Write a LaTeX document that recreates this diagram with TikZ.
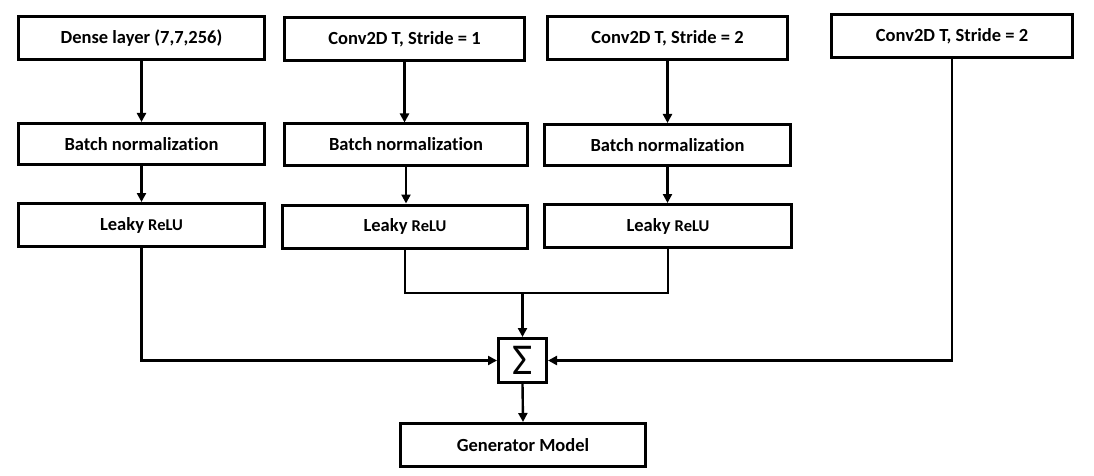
\documentclass[tikz,border=0pt]{standalone}
\usepackage{fontspec}
\setmainfont{Carlito}[Ligatures=NoCommon]
\usepackage{tikz}
\usetikzlibrary{positioning,arrows.meta}
\tikzstyle{layer}=[draw,line width=3pt,font=\bfseries\fontsize{18.5}{20}\selectfont,minimum height=43pt,inner sep=2pt]
\tikzstyle{arr}=[line width=2.4pt,-{Triangle[length=9pt,width=9pt]}]
\tikzstyle{wire}=[line width=2.4pt]
\def\relu{Leaky {\fontsize{16.5}{18}\selectfont ReLU}}

\begin{document}
\begin{tikzpicture}[x=1pt,y=-1pt]
  \useasboundingbox (0,0) rectangle (1094,476);
  % top row
  \node[layer,minimum width=246pt] (dense) at (141.5,38) {Dense layer (7,7,256)};
  \node[layer,minimum width=240pt] (convA) at (404.5,39) {Conv2D T, Stride = 1};
  \node[layer,minimum width=240pt] (convB) at (667.5,38) {Conv2D T, Stride = 2};
  \node[layer,minimum width=241pt] (convC) at (952,36) {Conv2D T, Stride = 2};
  % normalization
  \node[layer,minimum width=246pt,minimum height=41pt] (batchA) at (141.5,144) {Batch normalization};
  \node[layer,minimum width=243pt,minimum height=41pt] (batchB) at (406,144.5) {Batch normalization};
  \node[layer,minimum width=246pt,minimum height=41pt] (batchC) at (667.5,145) {Batch normalization};
  % activation
  \node[layer,minimum width=246pt] (leakyA) at (141.5,225) {\relu};
  \node[layer,minimum width=245pt] (leakyB) at (405,226.5) {\relu};
  \node[layer,minimum width=247pt] (leakyC) at (668,226) {\relu};
  % sum and output
  \node[layer,minimum width=48pt,minimum height=44pt,inner sep=0pt,font=\fontsize{44}{44}\selectfont] (sum) at (522.5,360.5) {Σ};
  \node[layer,minimum width=245pt] (gen) at (523,445) {Generator Model};
  \coordinate (join) at (522.5,293);

  \draw[arr] (dense.south) -- (dense.south |- batchA.north);
  \draw[arr] (convA.south) -- (convA.south |- batchB.north);
  \draw[arr] (convB.south) -- (convB.south |- batchC.north);
  \draw[arr] (batchA.south) -- (batchA.south |- leakyA.north);
  \draw[arr] (batchB.south) -- (batchB.south |- leakyB.north);
  \draw[arr] (batchC.south) -- (batchC.south |- leakyC.north);
  \draw[wire] (leakyB.south) -- (leakyB.south |- join) -- (leakyC.south |- join) -- (leakyC.south);
  \draw[arr] (join) -- (sum.north);
  \draw[arr] (leakyA.south) |- (sum.west);
  \draw[arr] (convC.south) |- (sum.east);
  \draw[arr] (sum.south) -- (gen.north);
\end{tikzpicture}
\end{document}
